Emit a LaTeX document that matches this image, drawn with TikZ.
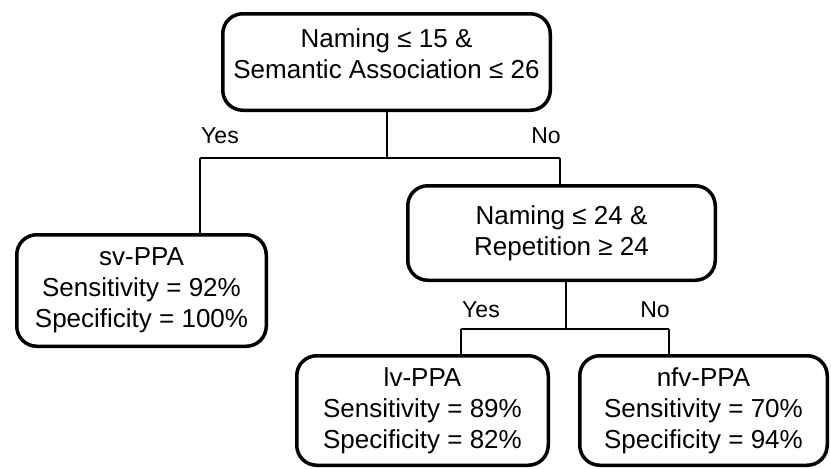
\documentclass[tikz,border=0pt]{standalone}
\usepackage{fontspec}
\setmainfont{Liberation Sans}

\begin{document}
\begin{tikzpicture}[x=1pt, y=-1pt,
    txt/.style={
      align=center,
      inner sep=0pt,
      font=\fontsize{26}{31}\selectfont
    },
    box/.style={
      txt,
      rectangle,
      rounded corners=20pt,
      draw,
      line width=3.5pt
    },
    answer/.style={inner sep=0pt, font=\fontsize{23}{27}\selectfont},
    edge/.style={line width=2pt}]
  \useasboundingbox (0,0) rectangle (831,469);
  % decisions
  \node[box, minimum width=327.5pt, minimum height=96.5pt] (root) at (386.5,62) {};
  \node[txt] (roottext) at (386.5,54) {Naming ≤ 15 \&\\Semantic Association ≤ 26};
  \node[box, minimum width=307.5pt, minimum height=94.5pt] (mid) at (561.5,233)
    {Naming ≤ 24 \&\\Repetition ≥ 24};
  % outcomes
  \node[box, minimum width=249.5pt, minimum height=111.5pt] (sv) at (141.5,290.5)
    {sv-PPA\\Sensitivity = 92\%\\Specificity = 100\%};
  \node[box, minimum width=251.5pt, minimum height=109.5pt] (lv) at (422.5,410.5)
    {lv-PPA\\Sensitivity = 89\%\\Specificity = 82\%};
  \node[box, minimum width=247.5pt, minimum height=109.5pt] (nfv) at (703.5,410.5)
    {nfv-PPA\\Sensitivity = 70\%\\Specificity = 94\%};
  % first split
  \coordinate (yes1) at (200,158);
  \coordinate (no1) at (560,158);
  \draw[edge] (root.south) -- (root.south |- yes1);
  \draw[edge] (yes1) -- (no1);
  \draw[edge] (yes1) -- (yes1 |- sv.north);
  \draw[edge] (no1) -- (no1 |- mid.north);
  \node[answer] (yeslabel1) at (220,136) {Yes};
  \node[answer] (nolabel1) at (546,136) {No};
  % second split
  \coordinate (fork2) at (566,329);
  \coordinate (yes2) at (461,329);
  \coordinate (no2) at (669,329);
  \draw[edge] (fork2 |- mid.south) -- (fork2);
  \draw[edge] (yes2) -- (no2);
  \draw[edge] (yes2) -- (yes2 |- lv.north);
  \draw[edge] (no2) -- (no2 |- nfv.north);
  \node[answer] (yeslabel2) at (481,309.5) {Yes};
  \node[answer] (nolabel2) at (655,309.5) {No};
\end{tikzpicture}
\end{document}
